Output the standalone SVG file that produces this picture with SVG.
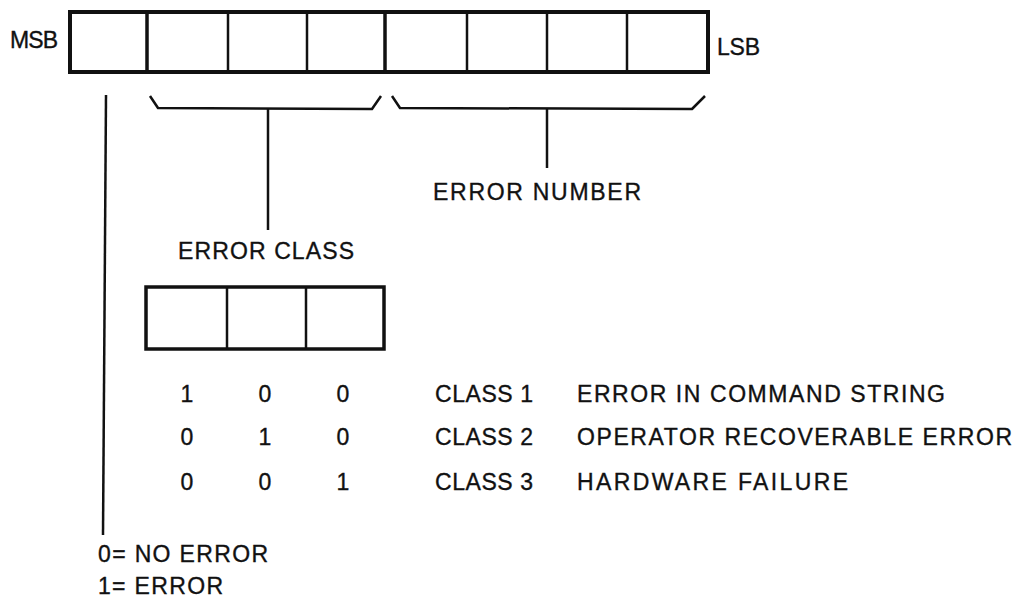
<svg xmlns="http://www.w3.org/2000/svg" width="1024" height="603" viewBox="0 0 1024 603">
<style>
text{font-family:"Liberation Sans",Arial,sans-serif;font-size:23px;fill:#111;stroke:#111;stroke-width:0.35}
.box{fill:#fff;stroke:#111;stroke-width:4}
.div{stroke:#111;stroke-width:2.5}
.ln{fill:none;stroke:#111;stroke-width:2.5;stroke-linejoin:round}
.d{text-anchor:middle}
</style>
<rect width="1024" height="603" fill="#fff"/>
<g id="register">
<rect class="box" x="70" y="12" width="638" height="60"/>
<line class="div" x1="147" y1="12" x2="147" y2="72" style="stroke-width:3.5"/>
<line class="div" x1="228" y1="12" x2="228" y2="72"/>
<line class="div" x1="307" y1="12" x2="307" y2="72"/>
<line class="div" x1="385" y1="12" x2="385" y2="72" style="stroke-width:3.5"/>
<line class="div" x1="467" y1="12" x2="467" y2="72"/>
<line class="div" x1="547" y1="12" x2="547" y2="72"/>
<line class="div" x1="627" y1="12" x2="627" y2="72"/>
<text x="10" y="48" textLength="48">MSB</text>
<text x="717" y="55" textLength="43">LSB</text>
</g>
<g id="connectors">
<path class="ln" d="M150,96 L158,108 L372,109 L381,96"/>
<path class="ln" d="M392,96 L400,108 L692,109 L705,96"/>
<line class="ln" x1="268" y1="109" x2="268" y2="230"/>
<line class="ln" x1="547" y1="109" x2="547" y2="168"/>
<line class="ln" x1="106" y1="95" x2="103" y2="535"/>
</g>
<g id="error-number">
<text x="433" y="200" textLength="208">ERROR NUMBER</text>
</g>
<g id="error-class">
<text x="178" y="259" textLength="176">ERROR CLASS</text>
<rect class="box" x="146" y="287" width="238" height="62" style="stroke-width:3.5"/>
<line class="div" x1="227" y1="287" x2="227" y2="349"/>
<line class="div" x1="306" y1="287" x2="306" y2="349"/>
</g>
<g id="class-table">
<text class="d" x="187" y="402">1</text>
<text class="d" x="265" y="402">0</text>
<text class="d" x="343" y="402">0</text>
<text x="435" y="402" textLength="98">CLASS 1</text>
<text x="577" y="402" textLength="368">ERROR IN COMMAND STRING</text>
<text class="d" x="187" y="445">0</text>
<text class="d" x="265" y="445">1</text>
<text class="d" x="343" y="445">0</text>
<text x="435" y="445" textLength="98">CLASS 2</text>
<text x="577" y="445" textLength="435">OPERATOR RECOVERABLE ERROR</text>
<text class="d" x="187" y="490">0</text>
<text class="d" x="265" y="490">0</text>
<text class="d" x="343" y="490">1</text>
<text x="435" y="490" textLength="98">CLASS 3</text>
<text x="577" y="490" textLength="271">HARDWARE FAILURE</text>
</g>
<g id="msb-legend">
<text x="98" y="562" textLength="170">0= NO ERROR</text>
<text x="98" y="594" textLength="125">1= ERROR</text>
</g>
</svg>
